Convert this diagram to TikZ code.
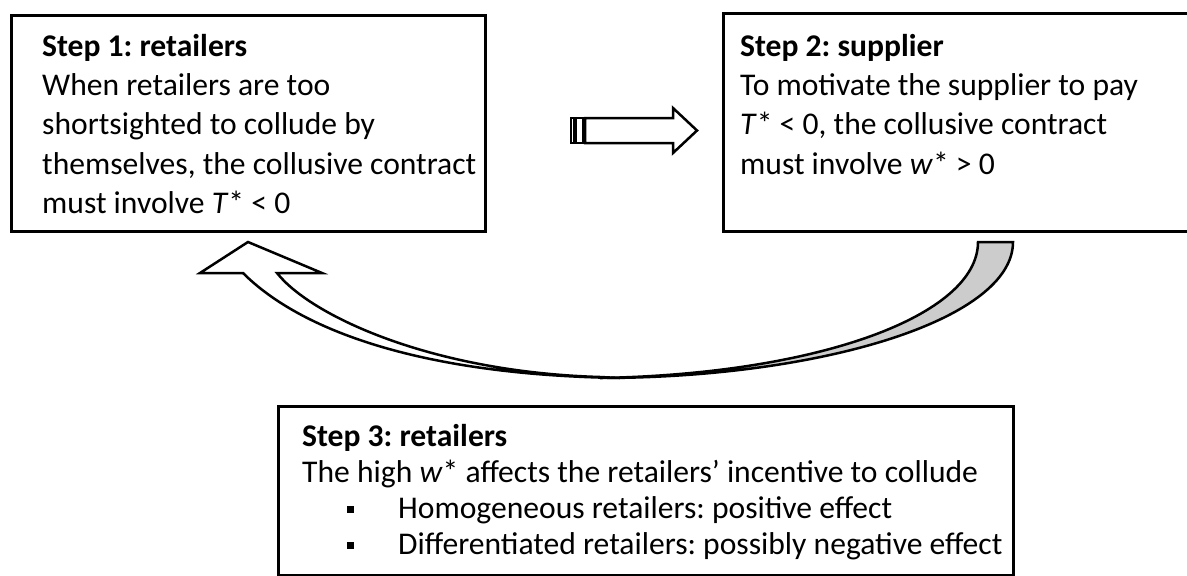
\documentclass[tikz,border=0pt]{standalone}
\usepackage{fontspec}
\setmainfont{Carlito}
\usepackage{tikz}
\definecolor{ribbongray}{RGB}{204,204,204}
\tikzset{
  stepbox/.style={draw, line width=3pt, anchor=north west, inner sep=0pt},
  steptext/.style={anchor=north west, inner sep=0pt, align=left,
    font=\fontsize{31.6}{39.3}\selectfont},
  blockarrow/.style={draw, line width=2.5pt, line join=miter, fill=white},
}
\newcommand{\sqbullet}{\hspace*{45pt}\rule[5pt]{7pt}{7pt}\hspace*{44pt}}
\frenchspacing

\begin{document}
\begin{tikzpicture}[x=1pt, y=-1pt]
  \useasboundingbox (0,0) rectangle (1187,576);
  \clip (0,0) rectangle (1187,576);

  \node (box1) [stepbox, minimum width=474pt, minimum height=216pt] at (10,14) {};
  \node (box2) [stepbox, minimum width=478pt, minimum height=218pt] at (722,12) {};
  \node (box3) [stepbox, minimum width=735pt, minimum height=169pt] at (277,405) {};

  \node (txt1) [steptext] at (42,34) {\textbf{Step 1: retailers}\\
    When retailers are too\\
    shortsighted to collude by\\
    themselves, the collusive contract\\
    must involve \textit{T}* < 0};
  \node (txt2) [steptext] at (740,34) {\textbf{Step 2: supplier}\\
    To motivate the supplier to pay\\
    \textit{T}* < 0, the collusive contract\\
    must involve \textit{w}* > 0};
  \node (txt3) [steptext, font=\fontsize{31.6}{36}\selectfont] at (302,424) {\textbf{Step 3: retailers}\\
    The high \textit{w}* affects the retailers’ incentive to collude\\
    \sqbullet Homogeneous retailers: positive effect\\
    \sqbullet Differentiated retailers: possibly negative effect};

  % striped arrow
  \draw [blockarrow] (571,118) rectangle (574,143);
  \draw [blockarrow] (576,118) rectangle (583,143);
  \draw [blockarrow] (585,118) -- (673,118) -- (673,108) -- (697,130.5)
    -- (673,153) -- (673,143) -- (585,143) -- cycle;

  % curved arrow, back of the ribbon
  \draw [blockarrow, fill=ribbongray] (978,242) -- (1013,242)
    .. controls (1013,320) and (820,378) .. (600,378)
    .. controls (820,374) and (978,315) .. (978,242) -- cycle;
  % curved arrow, front with head
  \draw [blockarrow] (200,273) -- (248,242) -- (322,273) -- (277,273)
    .. controls (310,315) and (430,372) .. (600,377)
    -- (620,378)
    .. controls (420,375) and (300,330) .. (243,273) -- cycle;
\end{tikzpicture}
\end{document}
